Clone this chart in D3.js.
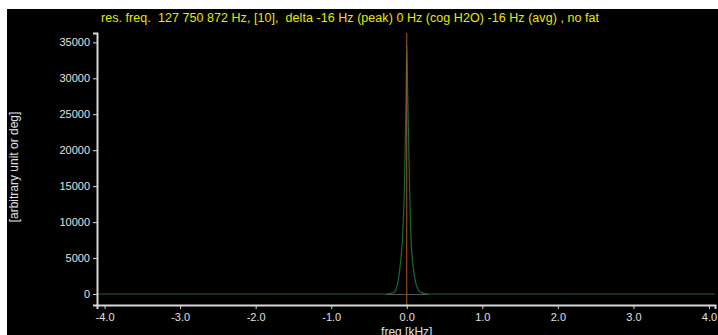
<!DOCTYPE html>
<html>
<head>
<meta charset="utf-8">
<script src="https://cdn.jsdelivr.net/npm/d3@7"></script>
<style>
  body { margin: 0; background: #fff; }
  svg { display: block; font-family: "Liberation Sans", Arial, sans-serif; }
</style>
</head>
<body>
<svg id="chart"></svg>
<script>
// spectrum (freq in kHz, amplitude)
const freqs  = [-4.10, -0.30, -0.28, -0.22, -0.17, -0.14, -0.12, -0.10, -0.08, -0.05, -0.023, -0.01, 0.0, 0.012, 0.03, 0.05, 0.076, 0.10, 0.12, 0.15, 0.20, 0.26, 0.29, 4.08];
const values = [0, 0, 0, 60, 200, 700, 1500, 2800, 4700, 9000, 18600, 27000, 34600, 28000, 18600, 9500, 4700, 2600, 1500, 600, 150, 30, 0, 0];
const xTicks = [-4, -3, -2, -1, 0, 1, 2, 3, 4];
const yTicks = [0, 5000, 10000, 15000, 20000, 25000, 30000, 35000];
const titleText = "res. freq.  127 750 872 Hz, [10],  delta -16 Hz (peak) 0 Hz (cog H2O) -16 Hz (avg) , no fat";

const W = 718, H = 335;
const svg = d3.select("#chart").attr("width", W).attr("height", H);

// black panel with white border strip on top/left
svg.append("rect").attr("x", 7).attr("y", 9).attr("width", W - 7).attr("height", H - 9).attr("fill", "#000");

const x = d3.scaleLinear().domain([-4.1, 4.08]).range([97, 715]);
const y = d3.scaleLinear().domain([-1530, 36300]).range([305, 33]);

// title
svg.append("text")
  .attr("x", 101).attr("y", 22)
  .attr("fill", "#e8e800")
  .attr("textLength", 498)
  .attr("lengthAdjust", "spacing")
  .style("white-space", "pre")
  .style("font-size", "12.5px")
  .text(titleText);

// data line
const pts = freqs.map((f, i) => [f, values[i]]);
const line = d3.line().x(d => x(d[0])).y(d => y(d[1])).curve(d3.curveMonotoneX);

// grey baseline segment under the peak
svg.append("line")
  .attr("x1", x(-0.28)).attr("x2", x(0.29))
  .attr("y1", y(0) + 0.5).attr("y2", y(0) + 0.5)
  .attr("stroke", "#555").attr("stroke-width", 1);

svg.append("path")
  .datum(pts)
  .attr("fill", "none")
  .attr("stroke", "#136b3e")
  .attr("stroke-width", 1.2)
  .attr("d", line);

// vertical marker at 0 kHz
svg.append("line")
  .attr("x1", x(0)).attr("x2", x(0))
  .attr("y1", y.range()[1]).attr("y2", y.range()[0])
  .attr("stroke", "#a85a26").attr("stroke-width", 1);

// axes
const axisColor = "#d8d8d8";
const fmt = d => d3.format(".1f")(d).replace("−", "-");
const xAxis = svg.append("g")
  .attr("transform", `translate(0,${y.range()[0]})`)
  .call(d3.axisBottom(x).tickValues(xTicks).tickFormat(fmt).tickSizeOuter(0).tickSize(4));
const yAxis = svg.append("g")
  .attr("transform", `translate(${x.range()[0]},0)`)
  .call(d3.axisLeft(y).tickValues(yTicks).tickFormat(d => d).tickSizeOuter(0).tickSize(4));

[xAxis, yAxis].forEach(g => {
  g.select(".domain").attr("stroke", axisColor).attr("stroke-width", 2);
  g.selectAll(".tick line").attr("stroke", axisColor);
  g.selectAll(".tick text")
    .attr("fill", "#e0e0e0")
    .style("font-size", "11px")
    .style("font-family", "\"Liberation Sans\", Arial, sans-serif");
});
xAxis.selectAll(".tick text").attr("dy", "0.9em").attr("y", 6);
yAxis.selectAll(".tick text").attr("x", -7);

// axis titles
svg.append("text")
  .attr("x", x(0)).attr("y", 336)
  .attr("text-anchor", "middle")
  .attr("fill", "#e0e0e0")
  .style("font-size", "12px")
  .text("freq [kHz]");

svg.append("text")
  .attr("transform", "translate(18,167) rotate(-90)")
  .attr("text-anchor", "middle")
  .attr("fill", "#e0e0e0")
  .style("font-size", "12px")
  .text("[arbitrary unit or deg]");
</script>
</body>
</html>
